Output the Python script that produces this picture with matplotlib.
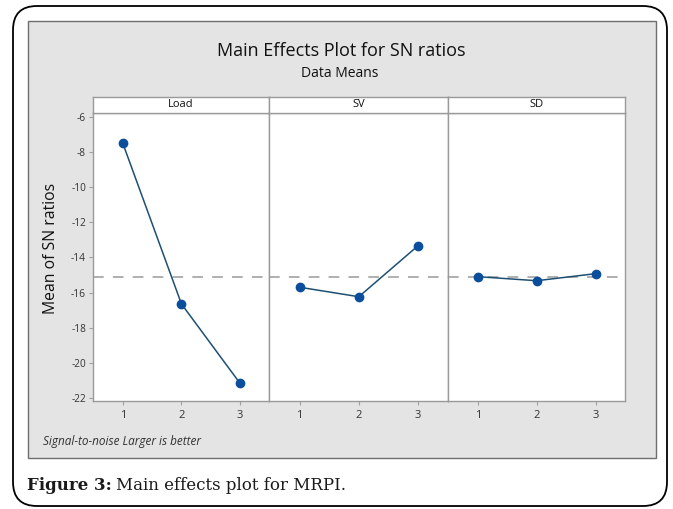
import numpy as np
import matplotlib
matplotlib.use("Agg")
import matplotlib.pyplot as plt
from matplotlib.patches import FancyBboxPatch, Rectangle

# data
factors = ["Load", "SV", "SD"]
levels = [1, 2, 3]
load_sn = [-7.52, -16.64, -21.15]
sv_sn = [-15.69, -16.23, -13.33]
sd_sn = [-15.09, -15.32, -14.92]
y_ticks = [-6, -8, -10, -12, -14, -16, -18, -20, -22]

W, H = 673, 509
SANS = "Open Sans"
fig = plt.figure(figsize=(W / 100, H / 100), dpi=100)
fig.patch.set_facecolor("white")

# background layer in pixel coordinates
bg = fig.add_axes([0, 0, 1, 1])
bg.set_xlim(0, W)
bg.set_ylim(H, 0)
bg.axis("off")

outer = FancyBboxPatch((13, 6), 654, 500, boxstyle="round,pad=0,rounding_size=24",
                       facecolor="white", edgecolor="black", linewidth=1.3)
bg.add_patch(outer)
panel = Rectangle((28, 20.7), 628, 437, facecolor="#e4e4e4", edgecolor="#6e6e6e", linewidth=1.0)
bg.add_patch(panel)

bg.text(341, 51, "Main Effects Plot for SN ratios", family=SANS, fontsize=13,
        ha="center", va="center", color="#111111")
bg.text(340, 73.5, "Data Means", family=SANS, fontsize=10,
        ha="center", va="center", color="#111111")
bg.text(51, 248, "Mean of SN ratios", family=SANS, fontsize=11.3, rotation=90,
        ha="center", va="center", color="#111111")
bg.text(43, 442, "Signal-to-noise Larger is better", family=SANS, fontsize=8.5,
        style="italic", ha="left", va="center", color="#333333")
bg.text(27, 486, "Figure 3:", family="DejaVu Serif", fontsize=12, weight="bold",
        ha="left", va="center", color="#1a1a1a")
bg.text(116, 486, "Main effects plot for MRPI.", family="DejaVu Serif", fontsize=12,
        ha="left", va="center", color="#1a1a1a")

# panel geometry (pixels)
edges = [93, 269.3, 447.7, 625]
ax_top, ax_bot, strip_top = 112.7, 400.7, 96.7
series = [load_sn, sv_sn, sd_sn]
grand_mean = np.mean(load_sn)

for i, name in enumerate(factors):
    x0, x1 = edges[i], edges[i + 1]
    ax = fig.add_axes([x0 / W, 1 - ax_bot / H, (x1 - x0) / W, (ax_bot - ax_top) / H])
    ax.set_facecolor("white")
    ax.set_xlim(0.49, 3.5)
    ax.set_ylim(-22.14, -5.77)
    ax.axhline(grand_mean, color="#9a9a9a", linestyle=(0, (7, 6)), linewidth=1.1, zorder=1)
    ax.plot(levels, series[i], color="#1d4f73", linewidth=1.1, marker="o",
            markersize=6, markerfacecolor="#0b4f9c", markeredgecolor="#0b4f9c", zorder=3)
    ax.set_xticks(levels)
    ax.set_xticklabels([str(v) for v in levels], family=SANS, fontsize=8, color="#333333")
    ax.tick_params(axis="x", length=3, color="#a0a0a0", pad=4)
    if i == 0:
        ax.set_yticks(y_ticks)
        ax.set_yticklabels([str(v) for v in y_ticks], family=SANS, fontsize=7.3, color="#333333")
        ax.tick_params(axis="y", length=3, color="#a0a0a0", pad=2)
    else:
        ax.set_yticks([])
    for s in ax.spines.values():
        s.set_color("#9a9a9a")
        s.set_linewidth(1.0)

    st = fig.add_axes([x0 / W, 1 - ax_top / H, (x1 - x0) / W, (ax_top - strip_top) / H])
    st.set_facecolor("white")
    st.set_xticks([])
    st.set_yticks([])
    for s in st.spines.values():
        s.set_color("#9a9a9a")
        s.set_linewidth(1.0)
    st.text(0.5, 0.5, name, transform=st.transAxes, family=SANS, fontsize=8,
            ha="center", va="center", color="#111111")

fig.savefig("out.png", dpi=100)
